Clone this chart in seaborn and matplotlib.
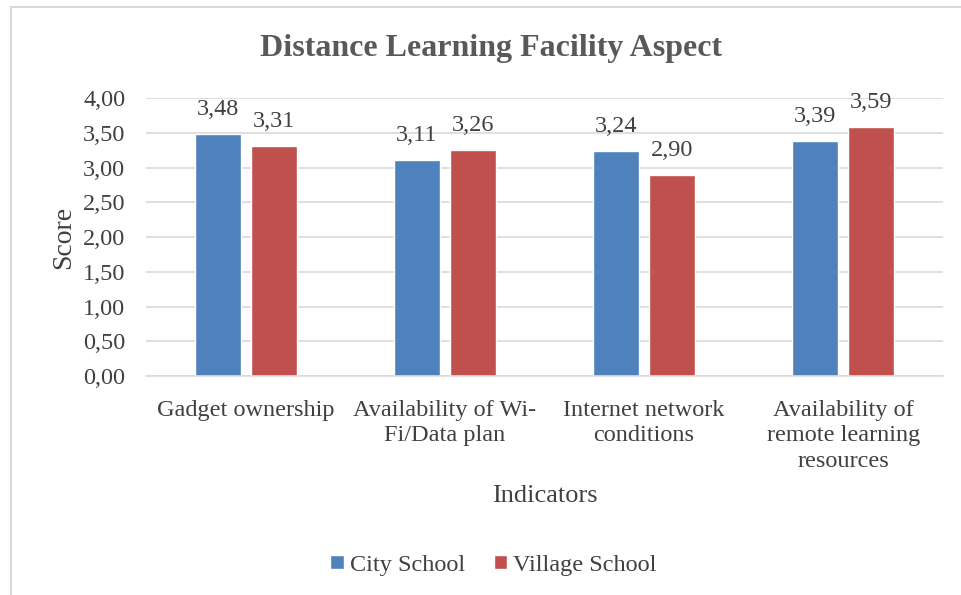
import matplotlib
matplotlib.use("Agg")
import matplotlib.pyplot as plt
import seaborn as sns
import pandas as pd
from matplotlib.lines import Line2D
from matplotlib.ticker import FuncFormatter

categories = ["Gadget ownership", "Availability of Wi-\nFi/Data plan",
              "Internet network\nconditions", "Availability of\nremote learning\nresources"]
city = [3.48, 3.11, 3.24, 3.39]
village = [3.31, 3.26, 2.90, 3.59]
series = ["City School", "Village School"]
colors = ["#4F81BD", "#C0504D"]

df = pd.DataFrame({
    "Indicator": categories * 2,
    "Score": city + village,
    "School": [series[0]] * 4 + [series[1]] * 4,
})

sns.set_style("white")
plt.rcParams["font.family"] = ["Liberation Serif", "DejaVu Serif"]

fig = plt.figure(figsize=(9.62, 5.95), dpi=100)
ax = fig.add_axes([0.152, 0.368, 0.828, 0.467])

sns.barplot(data=df, x="Indicator", y="Score", hue="School", palette=colors,
            width=0.56, gap=0.18, ax=ax, saturation=1, legend=True)

ax.set_ylim(0, 4.0)
ax.set_yticks([0, 0.5, 1, 1.5, 2, 2.5, 3, 3.5, 4])
ax.yaxis.set_major_formatter(FuncFormatter(lambda v, p: f"{v:.2f}".replace(".", ",")))
ax.grid(axis="y", color="#D9D9D9", lw=1.2)
ax.set_axisbelow(True)
for s in ["top", "right", "left"]:
    ax.spines[s].set_visible(False)
ax.spines["bottom"].set_color("#D9D9D9")
ax.spines["bottom"].set_linewidth(1.2)
ax.tick_params(axis="both", length=0, labelsize=17.5, colors="#404040")
ax.tick_params(axis="y", pad=15)
ax.tick_params(axis="x", pad=17)
for lbl in ax.get_xticklabels():
    lbl.set_linespacing(1.3)

for cont in ax.containers:
    ax.bar_label(cont, labels=[f"{v:.2f}".replace(".", ",") for v in cont.datavalues],
                 padding=10, fontsize=17.5, color="#404040")

ax.set_xlabel("Indicators", fontsize=19, color="#404040", labelpad=9)
ax.set_ylabel("Score", fontsize=20, color="#404040", labelpad=5)

fig.text(0.51, 0.918, "Distance Learning Facility Aspect", ha="center", va="center",
         fontsize=23, fontweight="bold", color="#595959")

leg = ax.legend(loc="center", bbox_to_anchor=(0.513, 0.05), bbox_transform=fig.transFigure,
                ncol=2, frameon=False, fontsize=17.5, handlelength=0.55, handleheight=0.55,
                handletextpad=0.25, columnspacing=1.2)
for t in leg.get_texts():
    t.set_color("#404040")

fig.add_artist(Line2D([11/962, 11/962], [0, 1 - 7/595], transform=fig.transFigure,
                      color="#D9D9D9", lw=1.5))
fig.add_artist(Line2D([11/962, 1], [1 - 7/595, 1 - 7/595], transform=fig.transFigure,
                      color="#D9D9D9", lw=1.5))

fig.savefig("out.png", dpi=100)
